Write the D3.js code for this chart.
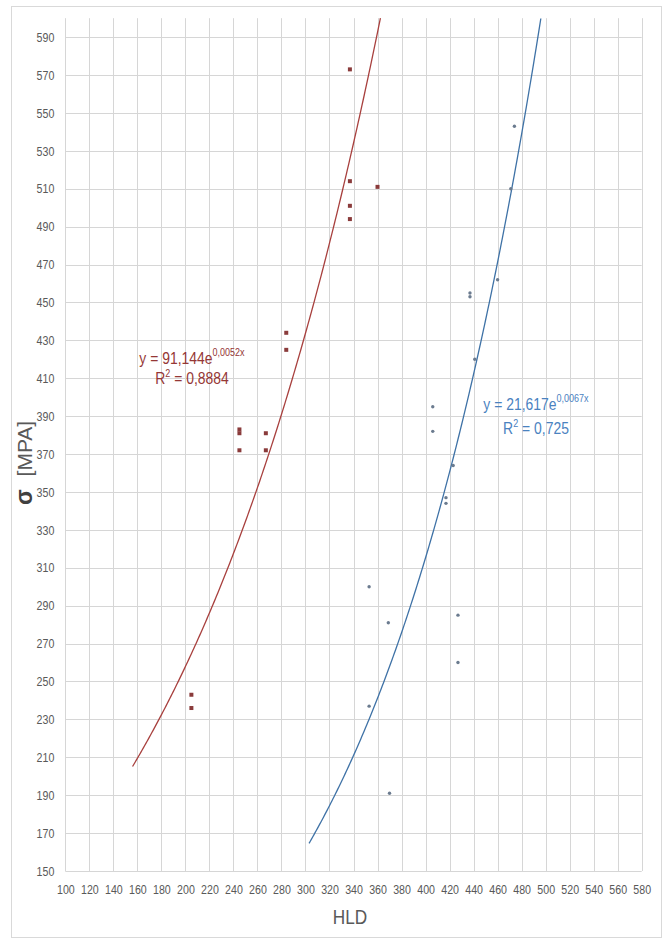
<!DOCTYPE html>
<meta charset="utf-8">
<script src="https://d3js.org/d3.v7.min.js"></script>
<style>
  body { margin: 0; background: #fff; }
  text { font-family: "Liberation Sans", Arial, sans-serif; }
  .sq { transform-box: fill-box; transform-origin: center; transform: scaleX(0.82); }
</style>
<div id="viz"></div>
<script>
// red series (upper-left cloud)
var redHLD   = [205, 205, 245, 245, 245, 267, 267, 284, 284, 337, 337, 337, 337, 360];
var redSigma = [243, 236, 383, 381, 372, 381, 372, 434, 425, 573, 514, 501, 494, 511];

// blue series (lower-right cloud)
var blueHLD   = [474, 471, 460, 437, 437, 441, 406, 406, 423, 417, 417, 353, 369, 427, 427, 353, 370];
var blueSigma = [543, 510, 462, 455, 453, 420, 395, 382, 364, 347, 344, 300, 281, 285, 260, 237, 191];

// exponential trendlines y = a * e^(b x), as printed on the chart
var trendA    = [91.144, 21.617];
var trendB    = [0.0052, 0.0067];
var trendFrom = [156, 303];
var trendTo   = [362.4, 496];
var trendEq   = ["y = 91,144e", "y = 21,617e"];
var trendExp  = ["0,0052x", "0,0067x"];
var trendR2   = ["0,8884", "0,725"];

var xTicks = d3.range(100, 581, 20);
var yTicks = d3.range(150, 591, 20);

var W = 664, H = 942;
var svg = d3.select("#viz").append("svg")
  .attr("width", W).attr("height", H);

// outer chart border
svg.append("rect")
  .attr("x", 11.5).attr("y", 6.5).attr("width", 650).attr("height", 931)
  .attr("fill", "none").attr("stroke", "#d9d9d9");

var x = d3.scaleLinear().domain([100, 580]).range([65.3, 641.7]);
var y = d3.scaleLinear().domain([150, 600]).range([871, 18.2]);

// grid
var grid = svg.append("g").attr("stroke", "#d6d6d6").attr("stroke-width", 1);
grid.selectAll(".vx").data(xTicks).enter().append("line")
  .attr("x1", d => Math.round(x(d)) + 0.5).attr("x2", d => Math.round(x(d)) + 0.5)
  .attr("y1", y(600)).attr("y2", y(150));
grid.selectAll(".hy").data(yTicks).enter().append("line")
  .attr("y1", d => Math.round(y(d)) + 0.5).attr("y2", d => Math.round(y(d)) + 0.5)
  .attr("x1", x(100)).attr("x2", x(580));

// axes (labels only, lines come from the grid)
var xAxis = svg.append("g")
  .attr("transform", "translate(0," + y(150) + ")")
  .call(d3.axisBottom(x).tickValues(xTicks).tickSize(0).tickPadding(14));
var yAxis = svg.append("g")
  .attr("transform", "translate(" + x(100) + ",0)")
  .call(d3.axisLeft(y).tickValues(yTicks).tickSize(0).tickPadding(9));
[xAxis, yAxis].forEach(function(a) {
  a.select(".domain").remove();
  a.selectAll("text")
    .attr("class", "sq")
    .style("font-family", "'Liberation Sans', Arial, sans-serif")
    .style("font-size", "13px")
    .attr("fill", "#595959");
});

// trendlines
var trendColor = ["#a8403e", "#3f72a6"];
var line = d3.line().x(d => x(d[0])).y(d => y(d[1]));
trendA.forEach(function(a, i) {
  var pts = d3.range(trendFrom[i], trendTo[i], 1).concat([trendTo[i]])
    .map(v => [v, a * Math.exp(trendB[i] * v)]);
  svg.append("path").datum(pts)
    .attr("d", line)
    .attr("fill", "none")
    .attr("stroke", trendColor[i])
    .attr("stroke-width", 1.3);
});

// points
var red = redHLD.map((v, i) => [v, redSigma[i]]);
var blue = blueHLD.map((v, i) => [v, blueSigma[i]]);
svg.append("g").selectAll("rect").data(red).enter().append("rect")
  .attr("x", d => x(d[0]) - 2).attr("y", d => y(d[1]) - 2)
  .attr("width", 4).attr("height", 4)
  .attr("fill", "#8a3b3b");
svg.append("g").selectAll("circle").data(blue).enter().append("circle")
  .attr("cx", d => x(d[0])).attr("cy", d => y(d[1]))
  .attr("r", 1.7)
  .attr("fill", "#6b7b8f");

// trendline labels
var labelColor = ["#953735", "#4a82bf"];
var labelPos = [[192, 364, 384], [536, 410, 434]];
trendEq.forEach(function(eq, i) {
  var p = labelPos[i];
  var t1 = svg.append("text").attr("class", "sq")
    .attr("x", p[0]).attr("y", p[1])
    .attr("text-anchor", "middle")
    .attr("fill", labelColor[i])
    .style("font-size", "17px");
  t1.append("tspan").text(eq);
  t1.append("tspan").text(trendExp[i]).attr("dy", -8).style("font-size", "11px");
  var t2 = svg.append("text").attr("class", "sq")
    .attr("x", p[0]).attr("y", p[2])
    .attr("text-anchor", "middle")
    .attr("fill", labelColor[i])
    .style("font-size", "17px");
  t2.append("tspan").text("R");
  t2.append("tspan").text("2").attr("dy", -7).style("font-size", "11px");
  t2.append("tspan").text(" = " + trendR2[i]).attr("dy", 7);
});

// axis titles
svg.append("text").attr("class", "sq")
  .attr("x", 350).attr("y", 924)
  .attr("text-anchor", "middle")
  .attr("fill", "#595959")
  .style("font-size", "21px")
  .text("HLD");

var yt = svg.append("g").attr("transform", "translate(32,505) rotate(-90)")
  .append("text")
  .attr("fill", "#595959")
  .style("font-size", "21px");
yt.append("tspan").text("σ").style("font-weight", "bold").style("font-size", "23px").attr("fill", "#404040");
yt.append("tspan").text(" [MPA]").attr("dx", 7);
</script>
